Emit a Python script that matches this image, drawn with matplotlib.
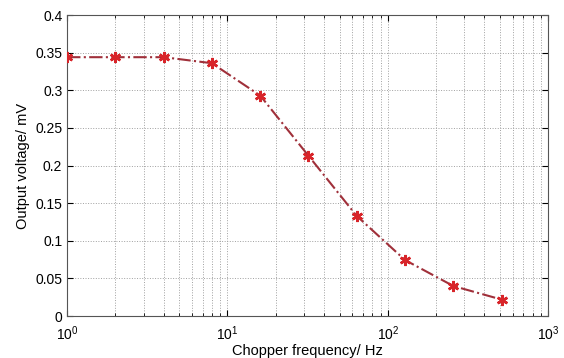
import matplotlib
matplotlib.use("Agg")
import matplotlib.pyplot as plt
from matplotlib.ticker import LogLocator, NullFormatter

freq = [1, 2, 4, 8, 16, 32, 64, 128, 256, 512]
voltage = [0.344, 0.344, 0.344, 0.336, 0.293, 0.213, 0.133, 0.0745, 0.040, 0.022]
yticks = [0, 0.05, 0.1, 0.15, 0.2, 0.25, 0.3, 0.35, 0.4]
ytick_labels = ["0", "0.05", "0.1", "0.15", "0.2", "0.25", "0.3", "0.35", "0.4"]

plt.rcParams['font.family'] = ['Liberation Sans', 'DejaVu Sans']
fig = plt.figure(figsize=(5.64, 3.58), dpi=100)
ax = fig.add_axes([0.119, 0.117, 0.853, 0.841])

ax.plot(freq, voltage, linestyle='-.', color='#a0303a', linewidth=1.5, zorder=3)
ax.plot(freq, voltage, linestyle='none', marker=(6, 2, 0), markersize=8,
        markeredgewidth=1.8, color='#d8252a', zorder=4)

ax.set_xscale('log')
ax.set_xlim(1, 1000)
ax.set_ylim(0, 0.4)
ax.set_yticks(yticks)
ax.set_yticklabels(ytick_labels)
ax.xaxis.set_major_locator(LogLocator(base=10))
ax.xaxis.set_minor_locator(LogLocator(base=10, subs=range(2, 10)))
ax.xaxis.set_minor_formatter(NullFormatter())

ax.grid(True, which='major', axis='both', linestyle=':', color='#a0a0a0', linewidth=0.7)
ax.grid(True, which='minor', axis='x', linestyle=':', color='#a0a0a0', linewidth=0.7)
ax.tick_params(direction='in', which='both', top=True, right=True, labelsize=10)
ax.tick_params(which='major', length=4)
ax.tick_params(which='minor', length=2)
ax.tick_params(axis='x', pad=6)
for s in ax.spines.values():
    s.set_color('#555555')
    s.set_linewidth(0.8)

ax.set_xlabel('Chopper frequency/ Hz', fontsize=10.5, labelpad=1)
ax.set_ylabel('Output voltage/ mV', fontsize=10.5, labelpad=4)

fig.savefig('out.png', dpi=100)
